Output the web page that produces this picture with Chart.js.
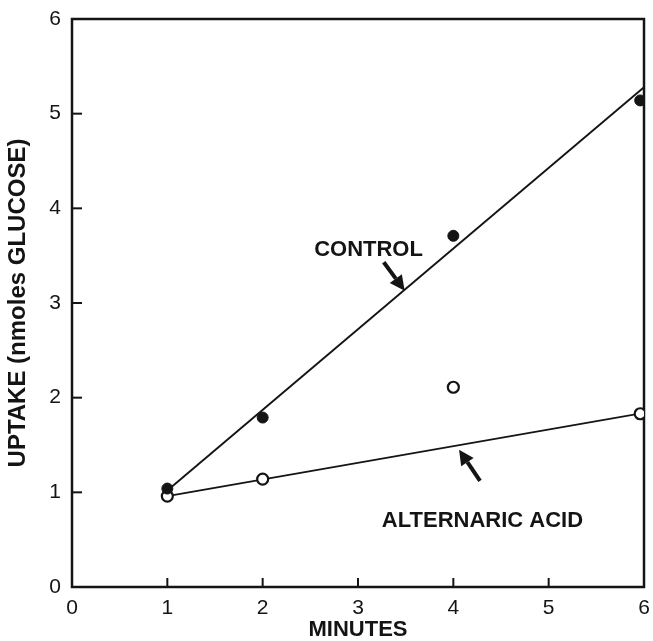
<!DOCTYPE html>
<html lang="en">
<head>
<meta charset="UTF-8">
<title>Glucose uptake vs time</title>
<script src="https://cdn.jsdelivr.net/npm/chart.js"></script>
<style>
    html, body { margin: 0; padding: 0; background: #fff; }
    canvas { display: block; }
</style>
</head>
<body>
<canvas id="uptakeChart" width="653" height="641"></canvas>
<script>
    // measured points (minutes, nmoles glucose)
    const minutes = [1, 2, 4, 5.96];
    const controlUptake = [1.04, 1.79, 3.71, 5.14];
    const acidUptake = [0.96, 1.14, 2.11, 1.83];

    // end points of the fitted lines
    const fitMinutes = [1, 6];
    const controlFit = [1.02, 5.28];
    const acidFit = [0.96, 1.84];

    // inner tick marks on both axes
    const innerTicks = [1, 2, 3, 4, 5];

    const ink = "#141414";
    const family = "'Liberation Sans', Arial, Helvetica, sans-serif";

    function pts(xs, ys) {
        return xs.map((x, i) => ({ x: x, y: ys[i] }));
    }

    // labels and arrows, placed in data units
    const notes = [
        { text: "CONTROL", x: 2.54, y: 3.56 },
        { text: "ALTERNARIC ACID", x: 3.25, y: 0.70 }
    ];
    const arrows = [
        { from: [3.27, 3.43], to: [3.49, 3.13] },
        { from: [4.28, 1.12], to: [4.06, 1.45] }
    ];

    const framePlugin = {
        id: "frame",
        beforeDatasetsDraw(chart) {
            const ctx = chart.ctx;
            const a = chart.chartArea;
            const xs = chart.scales.x, ys = chart.scales.y;
            ctx.save();
            ctx.strokeStyle = ink;
            ctx.lineWidth = 2.5;
            ctx.strokeRect(a.left, a.top, a.right - a.left, a.bottom - a.top);
            ctx.lineWidth = 2;
            innerTicks.forEach(v => {
                const px = xs.getPixelForValue(v);
                ctx.beginPath();
                ctx.moveTo(px, a.bottom);
                ctx.lineTo(px, a.bottom - 9);
                ctx.stroke();
                const py = ys.getPixelForValue(v);
                ctx.beginPath();
                ctx.moveTo(a.left, py);
                ctx.lineTo(a.left + 10, py);
                ctx.stroke();
            });
            ctx.restore();
        },
        afterDraw(chart) {
            const ctx = chart.ctx;
            const xs = chart.scales.x, ys = chart.scales.y;
            ctx.save();
            ctx.fillStyle = ink;
            ctx.strokeStyle = ink;
            ctx.font = "bold 22px " + family;
            ctx.textAlign = "left";
            ctx.textBaseline = "middle";
            notes.forEach(n => {
                ctx.fillText(n.text, xs.getPixelForValue(n.x), ys.getPixelForValue(n.y));
            });
            arrows.forEach(ar => {
                const x0 = xs.getPixelForValue(ar.from[0]), y0 = ys.getPixelForValue(ar.from[1]);
                const x1 = xs.getPixelForValue(ar.to[0]), y1 = ys.getPixelForValue(ar.to[1]);
                const ang = Math.atan2(y1 - y0, x1 - x0);
                const headLen = 15, headW = 7.5;
                const bx = x1 - headLen * Math.cos(ang), by = y1 - headLen * Math.sin(ang);
                ctx.lineWidth = 4;
                ctx.beginPath();
                ctx.moveTo(x0, y0);
                ctx.lineTo(bx, by);
                ctx.stroke();
                ctx.beginPath();
                ctx.moveTo(x1, y1);
                ctx.lineTo(bx + headW * Math.sin(ang), by - headW * Math.cos(ang));
                ctx.lineTo(bx - headW * Math.sin(ang), by + headW * Math.cos(ang));
                ctx.closePath();
                ctx.fill();
            });
            ctx.restore();
        }
    };

    const ctx = document.getElementById("uptakeChart").getContext("2d");
    new Chart(ctx, {
        type: "scatter",
        data: {
            datasets: [
                {
                    label: "Control",
                    data: pts(minutes, controlUptake),
                    pointRadius: 5.5,
                    pointBackgroundColor: ink,
                    pointBorderColor: ink,
                    pointBorderWidth: 1,
                    showLine: false
                },
                {
                    label: "Alternaric acid",
                    data: pts(minutes, acidUptake),
                    pointRadius: 5.5,
                    pointBackgroundColor: "#fff",
                    pointBorderColor: ink,
                    pointBorderWidth: 2.2,
                    showLine: false
                },
                {
                    label: "Control fit",
                    data: pts(fitMinutes, controlFit),
                    showLine: true,
                    borderColor: ink,
                    borderWidth: 1.9,
                    pointRadius: 0
                },
                {
                    label: "Alternaric acid fit",
                    data: pts(fitMinutes, acidFit),
                    showLine: true,
                    borderColor: ink,
                    borderWidth: 1.9,
                    pointRadius: 0
                }
            ]
        },
        options: {
            responsive: false,
            animation: false,
            layout: { padding: { top: 19, right: 9, left: 0, bottom: 0 } },
            plugins: {
                legend: { display: false },
                tooltip: { enabled: false }
            },
            scales: {
                x: {
                    type: "linear",
                    min: 0,
                    max: 6,
                    grid: { display: false, drawTicks: false },
                    border: { display: false },
                    ticks: {
                        stepSize: 1,
                        color: ink,
                        padding: 9,
                        font: { family: family, size: 21 }
                    },
                    title: {
                        display: true,
                        text: "MINUTES",
                        color: ink,
                        padding: { top: 0, bottom: 0 },
                        font: { family: family, size: 22, weight: "bold", lineHeight: 1 }
                    },
                    afterFit(scale) {
                        scale.height = 54;
                        scale.paddingRight = 0;
                        scale.paddingLeft = 0;
                    }
                },
                y: {
                    type: "linear",
                    min: 0,
                    max: 6,
                    grid: { display: false, drawTicks: false },
                    border: { display: false },
                    ticks: {
                        stepSize: 1,
                        color: ink,
                        padding: 11,
                        font: { family: family, size: 21 }
                    },
                    title: {
                        display: true,
                        text: "UPTAKE (nmoles GLUCOSE)",
                        color: ink,
                        padding: { top: 6, bottom: 0 },
                        font: { family: family, size: 24, weight: "bold", lineHeight: 1 }
                    },
                    afterFit(scale) {
                        scale.width = 72;
                        scale.paddingTop = 0;
                        scale.paddingBottom = 0;
                    }
                }
            }
        },
        plugins: [framePlugin]
    });
</script>
</body>
</html>
